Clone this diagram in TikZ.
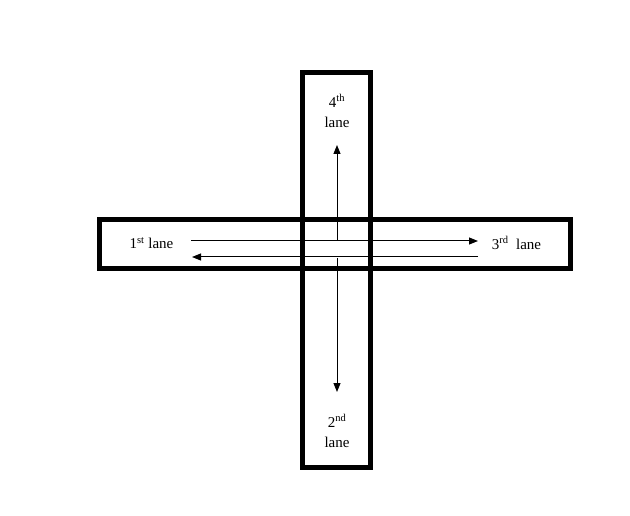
\documentclass[tikz,border=0pt]{standalone}
\usepackage{fontspec}
\setmainfont{Liberation Serif}
\usetikzlibrary{arrows.meta}

\begin{document}
\begin{tikzpicture}[x=1pt, y=-1pt, ->, >={Triangle[length=9pt,width=7pt]}, line width=1pt,
    font=\fontsize{15}{20}\selectfont,
    road/.style={-, line width=5pt}]
  \useasboundingbox (0,0) rectangle (630,516);

  % the two roads
  \draw[road] (302.5,72.5) rectangle (370.5,467);
  \draw[road] (99.5,220) rectangle (570.5,268.5);

  % lane labels
  \node[align=center] (L4) at (337,111) {4\textsuperscript{th}\\lane};
  \node (L1) at (151.5,243) {1\textsuperscript{st} lane};
  \node (L3) at (516.5,243) {3\textsuperscript{rd}\ \ lane};
  \node[align=center] (L2) at (337,431) {2\textsuperscript{nd}\\lane};

  % arrow ends
  \coordinate (N0) at (337,241);
  \coordinate (N1) at (337,145);
  \coordinate (S0) at (337,258);
  \coordinate (S1) at (337,392);
  \coordinate (E0) at (191,241);
  \coordinate (E1) at (478,241);
  \coordinate (W0) at (478,257);
  \coordinate (W1) at (192,257);

  \draw (N0) -- (N1);
  \draw (S0) -- (S1);
  \draw (E0) -- (E1);
  \draw (W0) -- (W1);
\end{tikzpicture}
\end{document}
